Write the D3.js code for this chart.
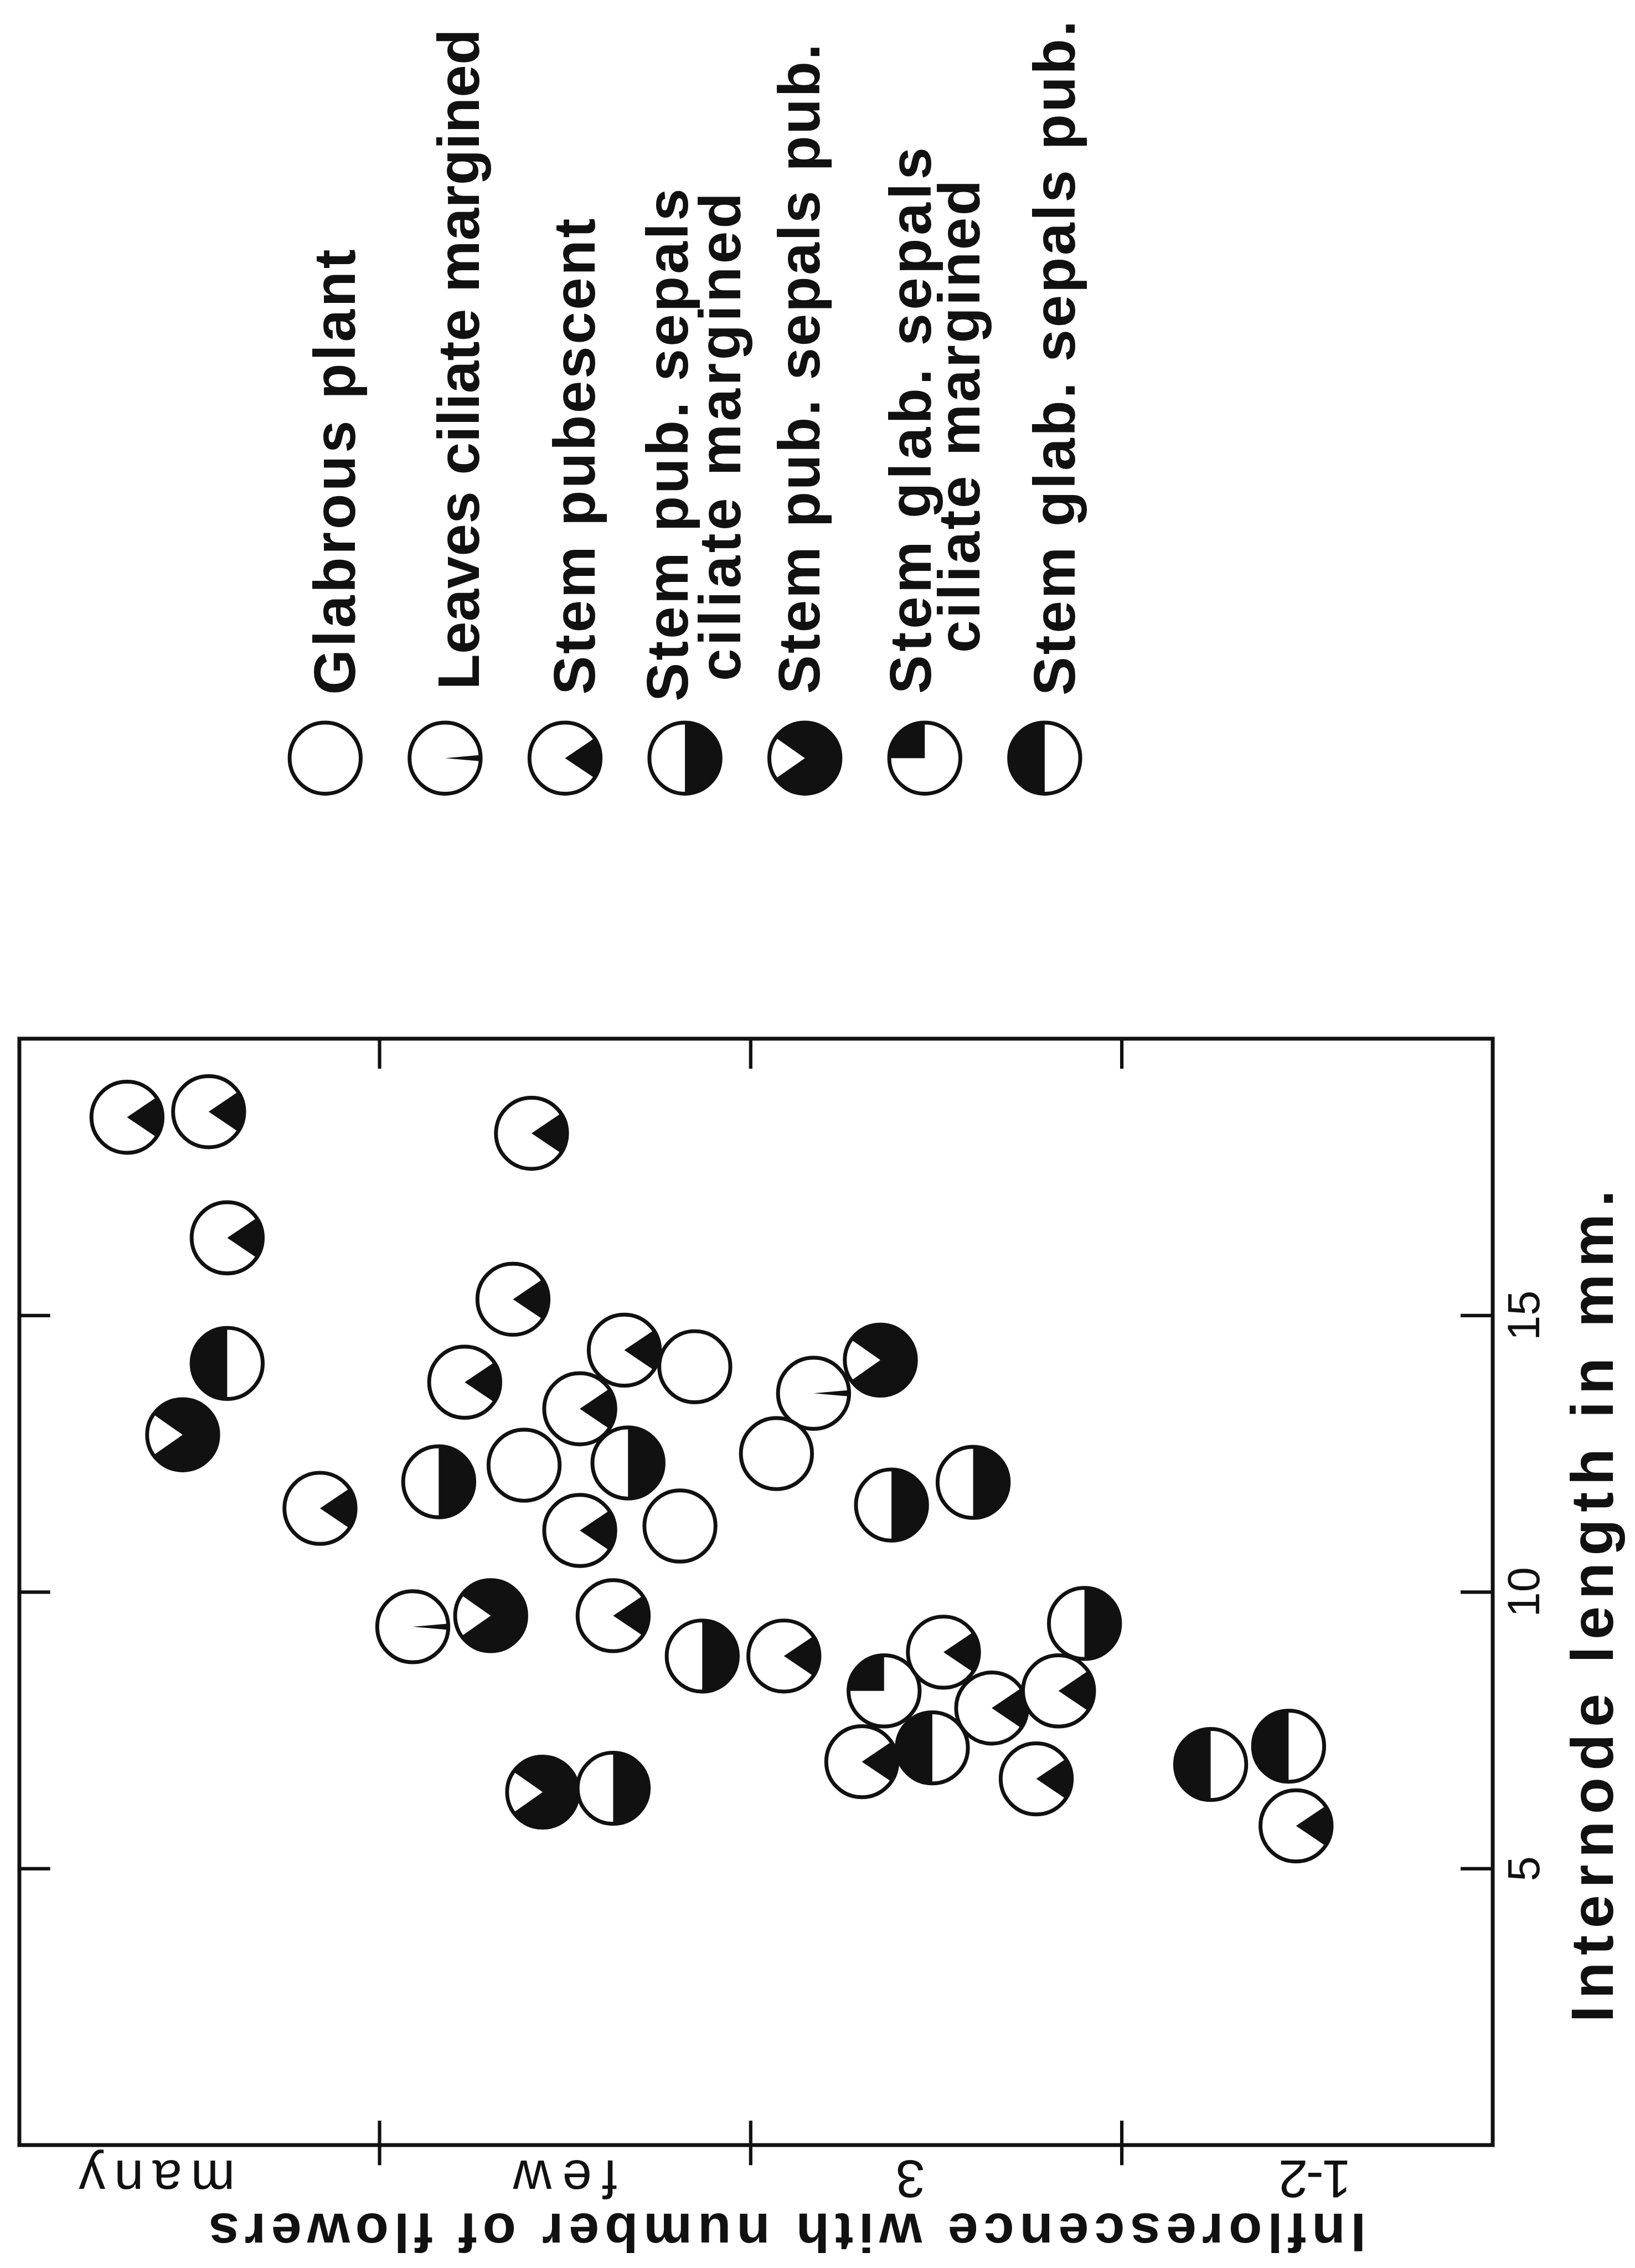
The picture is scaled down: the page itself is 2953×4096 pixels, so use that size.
<!DOCTYPE html>
<html>
<head>
<meta charset="utf-8">
<script src="https://cdn.jsdelivr.net/npm/d3@7"></script>
<style>
  body { margin: 0; background: #fff; }
</style>
</head>
<body>
<script>
// Values.
// internode length (mm) and position along the flower-count axis
// (0..4, bands: many | few | 3 | 1-2), plus the hair type of each plant
var internode = [18.58, 18.68, 18.29, 16.40, 15.29, 14.13, 12.84, 13.79, 14.37, 13.31,
                 11.99, 12.29, 12.33, 11.51, 11.11, 9.37, 9.57, 9.57, 6.38, 6.45,
                 14.07, 13.59, 14.19, 12.50, 11.19, 11.57, 11.98, 9.43, 8.84, 8.84,
                 8.21, 8.91, 7.90, 8.21, 6.93, 7.18, 6.62, 6.88, 7.21, 5.77];
var flowerPos = [0.32, 0.54, 1.41, 0.59, 1.36, 0.59, 0.47, 1.23, 1.66, 1.54,
                 1.16, 1.39, 1.67, 0.84, 1.54, 1.09, 1.30, 1.63, 1.44, 1.63,
                 1.85, 2.17, 2.35, 2.07, 1.81, 2.38, 2.60, 2.90, 1.87, 2.09,
                 2.36, 2.52, 2.65, 2.83, 2.30, 2.49, 2.77, 3.24, 3.45, 3.47];
var hairType = [2, 2, 2, 2, 2, 6, 4, 2, 2, 2,
                3, 0, 3, 2, 2, 1, 4, 2, 4, 3,
                0, 1, 4, 0, 0, 3, 3, 3, 3, 2,
                5, 2, 2, 2, 2, 6, 2, 6, 6, 2];

var typeLabels = [["Glabrous plant"],
                  ["Leaves ciliate margined"],
                  ["Stem pubescent"],
                  ["Stem pub. sepals", "ciliate margined"],
                  ["Stem pub. sepals pub."],
                  ["Stem glab. sepals", "ciliate margined"],
                  ["Stem glab. sepals pub."]];

var lengthTicks = [5, 10, 15];
var bandTicks = [1, 2, 3];
var bandLabels = ["many", "few", "3", "1-2"];
var bandLabelPos = [0.40, 1.50, 2.43, 3.52];

// Layout (reference pixel units, the viewBox scales it to the window)
var ink = "#111";
var font = "'Liberation Sans', Arial, Helvetica, sans-serif";
var frame = { left: 45, right: 3485, top: 2425, bottom: 5008 };
var markR = 83;
var legend = { x0: 759, step: 280, y: 1770 };
// per legend row: baseline offset from the symbol, start y and length of each line
var legendLines = [
    [[70, 1622, 1040]],
    [[79, 1610, 1542]],
    [[69, 1622, 1112]],
    [[7, 1638, 1198], [129, 1590, 1140]],
    [[34, 1620, 1518]],
    [[14, 1620, 1276], [127, 1524, 1104]],
    [[70, 1624, 1576]]
];
var bandLabelLen = [365, 243, 0, 170];

// filled sectors per hair type, in degrees clockwise from 12 o'clock
var sectors = {
    1: [[85, 95]],
    2: [[56, 124]],
    3: [[0, 180]],
    4: [[-55, 235]],
    5: [[-90, 0]],
    6: [[180, 360]]
};

var svg = d3.select("body").append("svg")
    .attr("width", 2953)
    .attr("height", 4096)
    .attr("viewBox", "0 0 3817 5295");

svg.append("rect").attr("width", 3817).attr("height", 5295).attr("fill", "#fff");

var yScale = d3.scaleLinear().domain([0, 20]).range([frame.bottom, frame.top]);
var xScale = d3.scaleLinear().domain([0.03, 4]).range([frame.left, frame.right]);
var arc = d3.arc().innerRadius(0).outerRadius(markR);

function drawMarker(g, kind) {
    g.append("circle").attr("r", markR).attr("fill", "#fff");
    (sectors[kind] || []).forEach(function(s) {
        g.append("path")
            .attr("d", arc({ startAngle: s[0] * Math.PI / 180, endAngle: s[1] * Math.PI / 180 }))
            .attr("fill", ink);
    });
    g.append("circle")
        .attr("r", markR)
        .attr("fill", "none")
        .attr("stroke", ink)
        .attr("stroke-width", 9);
}

// Frame
svg.append("rect")
    .attr("x", frame.left)
    .attr("y", frame.top)
    .attr("width", frame.right - frame.left)
    .attr("height", frame.bottom - frame.top)
    .attr("fill", "none")
    .attr("stroke", ink)
    .attr("stroke-width", 9);

// Internode length axis (right side, ticks point inward)
var rightAxis = svg.append("g")
    .attr("transform", "translate(" + frame.right + ",0)")
    .call(d3.axisRight(yScale).tickValues(lengthTicks).tickSize(-75).tickFormat(d3.format("d")));
rightAxis.select(".domain").remove();
rightAxis.selectAll("line").attr("stroke", ink).attr("stroke-width", 8);
rightAxis.selectAll("text")
    .attr("x", null)
    .attr("dy", null)
    .attr("transform", "translate(109,0) rotate(-90)")
    .attr("text-anchor", "middle")
    .attr("fill", ink)
    .style("font-family", font)
    .style("font-size", "105px");

var leftAxis = svg.append("g")
    .attr("transform", "translate(" + frame.left + ",0)")
    .call(d3.axisLeft(yScale).tickValues(lengthTicks).tickSize(-72).tickFormat(""));
leftAxis.select(".domain").remove();
leftAxis.selectAll("line").attr("stroke", ink).attr("stroke-width", 8);

// Flower count axis (band boundaries)
var topAxis = svg.append("g")
    .attr("transform", "translate(0," + frame.top + ")")
    .call(d3.axisTop(xScale).tickValues(bandTicks).tickSize(-70).tickFormat(""));
topAxis.select(".domain").remove();
topAxis.selectAll("line").attr("stroke", ink).attr("stroke-width", 8);

var bottomAxis = svg.append("g")
    .attr("transform", "translate(0," + frame.bottom + ")")
    .call(d3.axisBottom(xScale).tickValues(bandTicks).tickSize(47).tickFormat(""));
bottomAxis.select(".domain").remove();
bottomAxis.selectAll("line").attr("y1", -57).attr("stroke", ink).attr("stroke-width", 8);

var bandAxis = svg.append("g")
    .attr("transform", "translate(0," + frame.bottom + ")")
    .call(d3.axisBottom(xScale).tickValues(bandLabelPos).tickSize(0)
        .tickFormat(function(d, i) { return bandLabels[i]; }));
bandAxis.select(".domain").remove();
bandAxis.selectAll("text")
    .attr("y", null)
    .attr("dy", null)
    .attr("transform", "translate(0,36) rotate(180)")
    .attr("fill", ink)
    .style("font-family", font)
    .style("font-size", "124px")
    .each(function(d, i) {
        if (bandLabelLen[i]) d3.select(this).attr("textLength", bandLabelLen[i]);
    });

// Axis titles
svg.append("text")
    .attr("transform", "translate(3766,3750) rotate(-90)")
    .attr("text-anchor", "middle")
    .attr("textLength", 1943)
    .attr("fill", ink)
    .style("font-family", font)
    .style("font-weight", "bold")
    .style("font-size", "140px")
    .text("Internode length in mm.");

svg.append("text")
    .attr("transform", "translate(1838,5168) rotate(180)")
    .attr("text-anchor", "middle")
    .attr("textLength", 2702)
    .attr("fill", ink)
    .style("font-family", font)
    .style("font-weight", "bold")
    .style("font-size", "128px")
    .text("Inflorescence with number of flowers");

// Plants
var points = svg.append("g").attr("class", "points");
internode.forEach(function(v, i) {
    var g = points.append("g")
        .attr("transform", "translate(" + xScale(flowerPos[i]) + "," + yScale(v) + ")");
    drawMarker(g, hairType[i]);
});

// Legend
typeLabels.forEach(function(lines, i) {
    var cx = legend.x0 + i * legend.step;
    var g = svg.append("g").attr("transform", "translate(" + cx + "," + legend.y + ")");
    drawMarker(g, i);
    lines.forEach(function(line, j) {
        var lay = legendLines[i][j];
        svg.append("text")
            .attr("transform", "translate(" + (cx + lay[0]) + "," + lay[1] + ") rotate(-90)")
            .attr("textLength", lay[2])
            .attr("fill", ink)
            .style("font-family", font)
            .style("font-weight", "bold")
            .style("font-size", "136px")
            .text(line);
    });
});
</script>
</body>
</html>
